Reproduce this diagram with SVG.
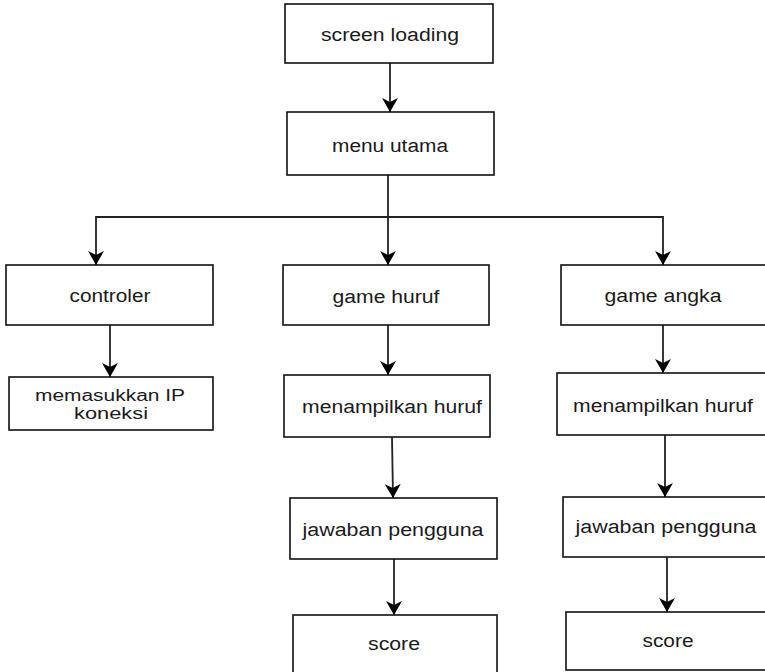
<svg xmlns="http://www.w3.org/2000/svg" width="765" height="672" viewBox="0 0 765 672">
<style>
.box{fill:#fff;stroke:#111;stroke-width:1.6}
.lbl{font-family:"Liberation Sans",Arial,sans-serif;font-size:18px;fill:#1a1a1a;text-anchor:middle}
.sm{font-size:16px}
.con{fill:none;stroke:#222;stroke-width:1.8}
</style>
<defs>
<marker id="arr" markerUnits="userSpaceOnUse" markerWidth="18" markerHeight="18" refX="14" refY="8" orient="auto" viewBox="0 0 18 18">
<path d="M0,0 L14,8 L0,16 L4,8 Z" fill="#000"/>
</marker>
</defs>
<rect width="765" height="672" fill="#fff"/>
<g id="connectors">
<path class="con" d="M390,63 V112" marker-end="url(#arr)"/>
<path class="con" d="M388,175 V265" marker-end="url(#arr)"/>
<path class="con" d="M388,217 H96 V265" marker-end="url(#arr)"/>
<path class="con" d="M388,217 H663 V265" marker-end="url(#arr)"/>
<path class="con" d="M110,325 V377" marker-end="url(#arr)"/>
<path class="con" d="M388,325 V375" marker-end="url(#arr)"/>
<path class="con" d="M392,437 L393,498" marker-end="url(#arr)"/>
<path class="con" d="M394,559 V615" marker-end="url(#arr)"/>
<path class="con" d="M663,325 V373" marker-end="url(#arr)"/>
<path class="con" d="M665,435 V497" marker-end="url(#arr)"/>
<path class="con" d="M667,557 V612" marker-end="url(#arr)"/>
</g>
<g id="screen-loading">
<rect class="box" x="285" y="4" width="208" height="59"/>
<text class="lbl" x="390" y="41" textLength="138" lengthAdjust="spacingAndGlyphs">screen loading</text>
</g>
<g id="menu-utama">
<rect class="box" x="287" y="112" width="207" height="63"/>
<text class="lbl" x="390" y="152" textLength="116" lengthAdjust="spacingAndGlyphs">menu utama</text>
</g>
<g id="controler">
<rect class="box" x="6" y="265" width="207" height="60"/>
<text class="lbl" x="110" y="302" textLength="81" lengthAdjust="spacingAndGlyphs">controler</text>
</g>
<g id="memasukkan-ip">
<rect class="box" x="9" y="377" width="204" height="53"/>
<text class="lbl sm" x="110" y="401" textLength="150" lengthAdjust="spacingAndGlyphs">memasukkan IP</text>
<text class="lbl sm" x="111" y="419" textLength="74" lengthAdjust="spacingAndGlyphs">koneksi</text>
</g>
<g id="game-huruf">
<rect class="box" x="283" y="265" width="206" height="60"/>
<text class="lbl" x="386" y="303" textLength="107" lengthAdjust="spacingAndGlyphs">game huruf</text>
</g>
<g id="menampilkan-huruf-1">
<rect class="box" x="284" y="375" width="206" height="62"/>
<text class="lbl" x="392" y="413" textLength="180" lengthAdjust="spacingAndGlyphs">menampilkan huruf</text>
</g>
<g id="jawaban-pengguna-1">
<rect class="box" x="290" y="498" width="207" height="61"/>
<text class="lbl" x="393" y="536" textLength="181" lengthAdjust="spacingAndGlyphs">jawaban pengguna</text>
</g>
<g id="score-1">
<rect class="box" x="293" y="615" width="204" height="70"/>
<text class="lbl" x="394" y="650" textLength="52" lengthAdjust="spacingAndGlyphs">score</text>
</g>
<g id="game-angka">
<rect class="box" x="561" y="265" width="220" height="60"/>
<text class="lbl" x="663" y="302" textLength="117" lengthAdjust="spacingAndGlyphs">game angka</text>
</g>
<g id="menampilkan-huruf-2">
<rect class="box" x="557" y="373" width="224" height="62"/>
<text class="lbl" x="663" y="412" textLength="180" lengthAdjust="spacingAndGlyphs">menampilkan huruf</text>
</g>
<g id="jawaban-pengguna-2">
<rect class="box" x="563" y="497" width="218" height="60"/>
<text class="lbl" x="666" y="533" textLength="181" lengthAdjust="spacingAndGlyphs">jawaban pengguna</text>
</g>
<g id="score-2">
<rect class="box" x="566" y="612" width="215" height="58"/>
<text class="lbl" x="668" y="647" textLength="51" lengthAdjust="spacingAndGlyphs">score</text>
</g>
</svg>
